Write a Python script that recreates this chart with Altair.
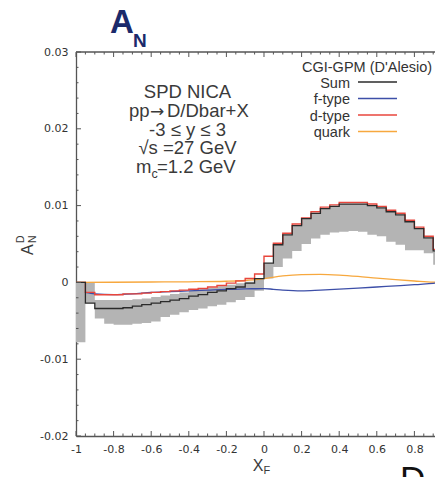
import altair as alt
import pandas as pd

# ---- data ----
bin_left = [-1.00, -0.95, -0.90, -0.85, -0.80, -0.75, -0.70, -0.65, -0.60, -0.55,
            -0.50, -0.45, -0.40, -0.35, -0.30, -0.25, -0.20, -0.15, -0.10, -0.05,
            0.00, 0.05, 0.10, 0.15, 0.20, 0.25, 0.30, 0.35, 0.40, 0.45,
            0.50, 0.55, 0.60, 0.65, 0.70, 0.75, 0.80, 0.85, 0.90]
bin_end = 0.95

sum_vals = [0.0, -0.0027, -0.0034, -0.0034, -0.0034, -0.0033, -0.0031, -0.0029, -0.0027, -0.0025,
            -0.0023, -0.0021, -0.0018, -0.0016, -0.0013, -0.0011, -0.0008, -0.0006, -0.0001, 0.0005,
            0.0025, 0.0049, 0.0062, 0.0074, 0.0083, 0.0090, 0.0096, 0.0099, 0.0102, 0.0102,
            0.0102, 0.0100, 0.0097, 0.0092, 0.0088, 0.0079, 0.0070, 0.0058, 0.0041]

dtype_vals = [0.0, -0.0013, -0.0016, -0.0016, -0.0016, -0.0015, -0.0015, -0.0014, -0.0013, -0.0012,
              -0.0011, -0.0010, -0.0009, -0.0008, -0.0006, -0.0004, -0.0001, 0.0002, 0.0005, 0.0011,
              0.0034, 0.0051, 0.0064, 0.0076, 0.0084, 0.0092, 0.0098, 0.0101, 0.0104, 0.0104,
              0.0104, 0.0102, 0.0099, 0.0094, 0.0090, 0.0081, 0.0072, 0.0060, 0.0043]

band_lo = [-0.0078, -0.0027, -0.0047, -0.0054, -0.0055, -0.0055, -0.0054, -0.0053, -0.0051, -0.0045,
           -0.0042, -0.0039, -0.0036, -0.0034, -0.0031, -0.0029, -0.0026, -0.0023, -0.0019, -0.0011,
           0.0005, 0.0020, 0.0031, 0.0041, 0.0050, 0.0057, 0.0062, 0.0065, 0.0066, 0.0067,
           0.0066, 0.0062, 0.0060, 0.0053, 0.0049, 0.0042, 0.0042, 0.0038, 0.0023]

band_hi = [0.0, 0.0, -0.0023, -0.0023, -0.0023, -0.0023, -0.0022, -0.0021, -0.0019, -0.0017,
           -0.0015, -0.0013, -0.0011, -0.0009, -0.0007, -0.0005, -0.0003, -0.0001, 0.0001, 0.0005,
           0.0025, 0.0049, 0.0062, 0.0074, 0.0083, 0.0090, 0.0096, 0.0099, 0.0102, 0.0102,
           0.0102, 0.0100, 0.0097, 0.0092, 0.0088, 0.0079, 0.0070, 0.0058, 0.0041]

ftype_x = [-0.95, -0.90, -0.80, -0.70, -0.60, -0.50, -0.40, -0.30, -0.20, -0.10,
           0.00, 0.05, 0.10, 0.20, 0.30, 0.40, 0.50, 0.60, 0.70, 0.80, 0.90, 0.95]
ftype_y = [-0.0013, -0.0015, -0.0016, -0.0015, -0.0013, -0.0012, -0.0011, -0.0010, -0.0009, -0.00085,
           -0.0008, -0.0009, -0.0010, -0.0011, -0.0010, -0.00088, -0.00075, -0.0006, -0.00045, -0.0003,
           -0.00012, -0.00005]

quark_x = [-1.0, -0.8, -0.6, -0.4, -0.2, -0.1, 0.0, 0.1, 0.2, 0.3, 0.4, 0.5, 0.6, 0.7, 0.8, 0.9, 1.0]
quark_y = [0.0, 0.00002, 0.00005, 0.00008, 0.00015, 0.00025, 0.0005, 0.00085, 0.00102, 0.00105,
           0.00096, 0.00078, 0.00055, 0.00035, 0.00018, 0.00003, 0.0]

x_major = [-1, -0.8, -0.6, -0.4, -0.2, 0, 0.2, 0.4, 0.6, 0.8]
x_minor = [-0.95, -0.9, -0.85, -0.75, -0.7, -0.65, -0.55, -0.5, -0.45, -0.35, -0.3, -0.25,
           -0.15, -0.1, -0.05, 0.05, 0.1, 0.15, 0.25, 0.3, 0.35, 0.45, 0.5, 0.55, 0.65, 0.7,
           0.75, 0.85, 0.9]
y_major = [-0.02, -0.01, 0, 0.01, 0.02, 0.03]
y_minor = [-0.018, -0.016, -0.014, -0.012, -0.008, -0.006, -0.004, -0.002,
           0.002, 0.004, 0.006, 0.008, 0.012, 0.014, 0.016, 0.018,
           0.022, 0.024, 0.026, 0.028]

legend_names = ["Sum", "f-type", "d-type", "quark"]
legend_colors = ["#2b2b2b", "#3d4fa8", "#e8463c", "#f7a83e"]

# ---- tables ----
step_x = bin_left + [bin_end]
step_df = pd.DataFrame({
    "x": step_x,
    "sum": sum_vals + [sum_vals[-1]],
    "dtype": dtype_vals + [dtype_vals[-1]],
    "lo": band_lo + [band_lo[-1]],
    "hi": band_hi + [band_hi[-1]],
})
f_df = pd.DataFrame({"x": ftype_x, "y": ftype_y})
q_df = pd.DataFrame({"x": quark_x, "y": quark_y})

W, H = 359, 384
xs = alt.Scale(domain=[-1, 0.9096], nice=False, zero=False)
ys = alt.Scale(domain=[-0.02, 0.03], nice=False, zero=False)

xaxis = alt.Axis(values=x_major, labelExpr="'' + datum.value", ticks=False, tickSize=0,
                 grid=False, domain=True, domainColor="#555555", domainWidth=1.3,
                 labelFont="DejaVu Sans", labelFontSize=11, labelColor="#333333",
                 labelPadding=7, labelFlush=False, labelOverlap=False, title="")
yaxis = alt.Axis(values=y_major, labelExpr="'' + datum.value", ticks=False, tickSize=0,
                 grid=False, domain=True, domainColor="#555555", domainWidth=1.3,
                 labelFont="DejaVu Sans", labelFontSize=11, labelColor="#333333",
                 labelPadding=8, labelFlush=False, labelOverlap=False, title="")


def X(field):
    return alt.X(f"{field}:Q", scale=xs, axis=xaxis)


def Y(field):
    return alt.Y(f"{field}:Q", scale=ys, axis=yaxis)


band = alt.Chart(step_df).mark_area(interpolate="step-after", color="#b4b4b4", clip=True).encode(
    x=X("x"), y=Y("lo"), y2="hi:Q",
)


def curve(df, col, color, interp, width=1.3):
    return alt.Chart(df).mark_line(interpolate=interp, color=color, strokeWidth=width, clip=True).encode(
        x=X("x"), y=Y(col),
    )


quark_line = curve(q_df, "y", legend_colors[3], "monotone")
f_line = curve(f_df, "y", legend_colors[1], "monotone")
d_line = curve(step_df, "dtype", legend_colors[2], "step-after", 1.4)
s_line = curve(step_df, "sum", legend_colors[0], "step-after", 1.3)

tick_color = "#555555"


def xticks(vals, length, top):
    df = pd.DataFrame({"x": vals})
    if top:
        enc = dict(y=alt.value(0), y2=alt.value(length))
    else:
        enc = dict(y=alt.value(H), y2=alt.value(H - length))
    return alt.Chart(df).mark_rule(color=tick_color, strokeWidth=1).encode(x=X("x"), **enc)


def yticks(vals, length):
    df = pd.DataFrame({"y": vals})
    return alt.Chart(df).mark_rule(color=tick_color, strokeWidth=1).encode(
        y=Y("y"), x=alt.value(0), x2=alt.value(length))


ticks = [xticks(x_major, 5, False), xticks(x_minor, 2.5, False),
         xticks(x_major, 5, True), xticks(x_minor, 2.5, True),
         yticks(y_major, 5), yticks(y_minor, 2.5)]

one = pd.DataFrame({"k": [0]})
top_frame = alt.Chart(one).mark_rule(color="#555555", strokeWidth=1.3).encode(
    x=alt.value(0), x2=alt.value(W), y=alt.value(0))

FONT = "Liberation Sans"


def txt(s, x, y, size, color="#3a3a3a", align="left", bold=False, angle=0, font=FONT):
    kw = dict(align=align, baseline="alphabetic", fontSize=size, color=color, font=font)
    if bold:
        kw["fontWeight"] = "bold"
    if angle:
        kw["angle"] = angle
    return alt.Chart(pd.DataFrame({"t": [s]})).mark_text(**kw).encode(
        x=alt.value(x), y=alt.value(y), text="t:N")


ox, oy = 76, 52  # plot origin in the window
texts = [
    txt("A", 110 - ox, 33 - oy, 33, color="#1b2a6b", bold=True),
    txt("N", 133 - ox, 47 - oy, 19, color="#1b2a6b", bold=True),
    txt("SPD NICA", 187.5 - ox, 97.7 - oy, 18.5, align="center"),
    txt("pp", 129 - ox, 116.7 - oy, 18.5),
    txt("\u2192", 150 - ox, 116.7 - oy, 17, font="DejaVu Sans"),
    txt("D/Dbar+X", 167 - ox, 116.7 - oy, 18.5),
    txt("-3 \u2264 y \u2264 3", 187.5 - ox, 135.5 - oy, 18.5, align="center"),
    txt("\u221as =27 GeV", 187.5 - ox, 154.3 - oy, 18.5, align="center"),
    txt("m", 136 - ox, 173.3 - oy, 18.5),
    txt("c", 151.5 - ox, 177.5 - oy, 12.5),
    txt("=1.2 GeV", 157 - ox, 173.3 - oy, 18.5),
    txt("CGI-GPM (D'Alesio)", 302 - ox, 72 - oy, 14.5, color="#333333"),
    txt("X", 252.7 - ox, 470.7 - oy, 16, color="#3a3a3a"),
    txt("F", 263.5 - ox, 473.5 - oy, 11, color="#3a3a3a"),
    txt("A", 33.3 - ox, 255 - oy, 16, color="#3a3a3a", angle=270),
    txt("N", 35.5 - ox, 243 - oy, 10.5, color="#3a3a3a", angle=270),
    txt("D", 23.5 - ox, 243 - oy, 10.5, color="#3a3a3a", angle=270),
    txt("D", 400 - ox, 491 - oy, 35, color="#111111"),
]

leg_base = [87.5, 104, 120.5, 137]
legend = []
for name, color, b in zip(legend_names, legend_colors, leg_base):
    legend.append(txt(name, 350 - ox, b - oy, 14.5, color="#333333", align="right"))
    legend.append(alt.Chart(one).mark_rule(color=color, strokeWidth=1.5).encode(
        x=alt.value(358 - ox), x2=alt.value(397 - ox), y=alt.value(b - 5.5 - oy)))

chart = alt.layer(band, quark_line, f_line, d_line, s_line, *ticks, top_frame, *texts, *legend).properties(
    width=W, height=H,
    autosize=alt.AutoSizeParams(type="none"),
    padding={"left": ox, "top": oy, "right": 0, "bottom": 477 - oy - H},
).configure_view(strokeWidth=0)

chart.save("out.html", embed_options={"renderer": "svg", "actions": False})
